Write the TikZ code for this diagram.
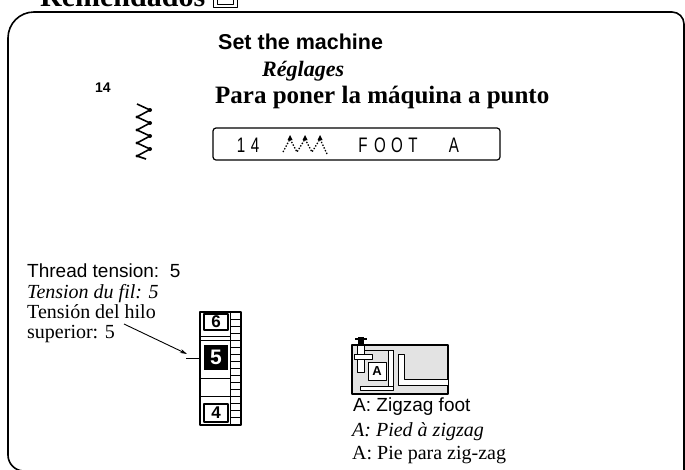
\documentclass[tikz,border=0pt]{standalone}
\usepackage{fontspec}
\setmainfont{Liberation Serif}
\setsansfont{Liberation Sans}
\usetikzlibrary{arrows.meta}
\begin{document}
\begin{tikzpicture}[x=1pt,y=-1pt,line join=round,
  frame/.style={line width=1.6pt},
  sanstext/.style={anchor=base west,inner sep=0pt,font=\sffamily\fontsize{19}{19}\selectfont},
  serftext/.style={anchor=base west,inner sep=0pt,font=\fontsize{20}{20}\selectfont},
  italtext/.style={anchor=base west,inner sep=0pt,font=\itshape\fontsize{20}{20}\selectfont},
  lcd/.style={anchor=base,inner sep=0pt,font=\sffamily\fontsize{21}{21}\selectfont,xscale=0.72},
  dialnum/.style={inner sep=0pt,font=\sffamily\bfseries\fontsize{17}{17}\selectfont},
  whitebox/.style={fill=white,draw=black,line width=1pt}]
\useasboundingbox (0,0) rectangle (685,469);
\clip (0,0) rectangle (685,469);

% heading of the page, cut by the top edge
\node[anchor=base west,inner sep=0pt,font=\bfseries\fontsize{30}{30}\selectfont] (head) at (40,6) {Remendados};
\draw[line width=1pt] (213,-10) rectangle (237,7);
\draw[line width=0.6pt] (217,-6) rectangle (233,4);

% outer frame
\draw[frame] (40,471) [rounded corners=16]-- (8,471) [rounded corners=26]-- (8,12) [rounded corners=12]-- (684,12) -- (684,480);

% titles
\node[anchor=base west,inner sep=0pt,font=\sffamily\bfseries\fontsize{21.5}{21.5}\selectfont] (t1) at (218,49) {Set the machine};
\node[anchor=base west,inner sep=0pt,font=\bfseries\itshape\fontsize{22}{22}\selectfont] (t2) at (262,76) {Réglages};
\node[anchor=base west,inner sep=0pt,font=\bfseries\fontsize{25}{25}\selectfont] (t3) at (215,103) {Para poner la máquina a punto};

% stitch number and zigzag symbol
\node[inner sep=0pt,font=\sffamily\bfseries\fontsize{14}{14}\selectfont] (num) at (103,88) {14};
\draw[line width=1.6pt] (137,104) -- (150,110) -- (137,117) -- (150,123) -- (137,130)
  -- (150,136) -- (137,143) -- (150,149) -- (137,156) -- (146,159);
\foreach \yy in {110,123,136,149}
  \fill (150,\yy) circle (2pt);
\foreach \yy in {117,130,143,156}
  \fill (137,\yy) circle (1.6pt);

% display window
\draw[line width=1.2pt,rounded corners=3pt] (213,128) rectangle (500,160);
\node[lcd] (d1) at (241,152) {1};
\node[lcd] (d2) at (255,152) {4};
\node[lcd] (d3) at (363,152) {F};
\node[lcd] (d4) at (380,152) {O};
\node[lcd] (d5) at (397,152) {O};
\node[lcd] (d6) at (413,152) {T};
\node[lcd] (d7) at (454,152) {A};
\draw[line width=1.3pt,dash pattern=on 1.4pt off 1.6pt] (283,152) -- (290,139) -- (297,152) -- (305,139) -- (312,152) -- (320,139) -- (327,154);
\foreach \xx in {290,305,320}
  \fill (\xx-2.5,140) -- (\xx,135) -- (\xx+2.5,140) -- cycle;

% thread tension captions
\node[sanstext] (tt1) at (27,277) {Thread tension:\ \ 5};
\node[italtext] (tt2) at (27,298) {Tension du fil: 5};
\node[serftext] (tt3) at (27,318) {Tensión del hilo};
\node[serftext] (tt4) at (27,338) {superior: 5};

% tension dial
\draw[line width=1.2pt] (200,312) rectangle (241,425);
\draw[line width=1pt] (230,312) -- (230,425);
\foreach \yy in {319,326,...,425}
  \draw[line width=0.8pt] (230,\yy) -- (241,\yy);
\draw[line width=1pt] (200,336) -- (230,336);
\draw[line width=1pt] (200,340) -- (230,340);
\draw[line width=1pt] (200,378) -- (230,378);
\draw[line width=1pt] (200,396) -- (230,396);
\draw[line width=1.2pt] (204,314) rectangle (228,330);
\node[dialnum] (n6) at (216,322) {6};
\fill (204,345) rectangle (228,370);
\node[dialnum,text=white,font=\sffamily\bfseries\fontsize{21}{21}\selectfont] (n5) at (216,357.5) {5};
\draw[line width=1.2pt] (204,404) rectangle (228,422);
\node[dialnum] (n4) at (216,413) {4};

% pointer to the dial setting
\coordinate (tick) at (200,358);
\coordinate (tickend) at (186,358);
\coordinate (ptr) at (124,324);
\draw[line width=1pt] (tickend) -- (tick);
\draw[line width=0.9pt,-{Stealth[length=7pt,width=4pt]}] (ptr) -- (187,354);

% zigzag presser foot
\draw[line width=2pt,fill=gray!22] (352,345) rectangle (448,394);
\fill (358,337) rectangle (364,345);
\draw[line width=1.2pt] (355,339) -- (367,339);
\draw[whitebox] (357,345) rectangle (364,372);
\draw[whitebox] (354,354) rectangle (372,359);
\draw[line width=1pt] (364,350) -- (394,350);
\draw[whitebox] (368,362) rectangle (386,380);
\node[inner sep=0pt,font=\sffamily\bfseries\fontsize{13}{13}\selectfont] (fa) at (377,371.5) {A};
\draw[whitebox] (388,350) rectangle (393,386);
\draw[whitebox] (398,354) -- (404,354) -- (404,379) -- (448,379) -- (448,385) -- (398,385) -- cycle;
\draw[whitebox] (360,386) rectangle (393,390);

% presser foot captions
\node[sanstext] (f1) at (353,411) {A: Zigzag foot};
\node[italtext] (f2) at (352,436) {A: Pied à zigzag};
\node[serftext] (f3) at (352,459) {A: Pie para zig-zag};
\end{tikzpicture}
\end{document}
